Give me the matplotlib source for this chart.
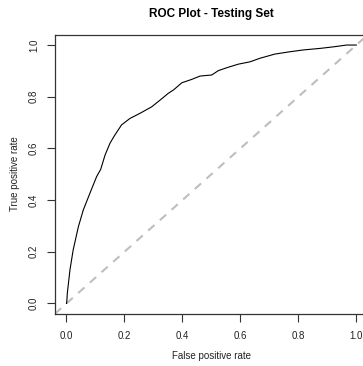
import matplotlib
matplotlib.use("Agg")
import matplotlib.pyplot as plt

fpr = [0.0, 0.001, 0.003, 0.012, 0.023, 0.041, 0.058, 0.081, 0.104, 0.118, 0.133,
       0.150, 0.167, 0.190, 0.219, 0.254, 0.294, 0.323, 0.351, 0.369, 0.398,
       0.432, 0.461, 0.501, 0.524, 0.558, 0.593, 0.633, 0.668, 0.719, 0.771,
       0.817, 0.875, 0.921, 0.967, 1.0]
tpr = [0.0, 0.007, 0.041, 0.130, 0.207, 0.297, 0.362, 0.427, 0.491, 0.519, 0.574,
       0.620, 0.652, 0.691, 0.716, 0.736, 0.761, 0.787, 0.813, 0.826, 0.854,
       0.867, 0.880, 0.884, 0.901, 0.914, 0.926, 0.935, 0.949, 0.965, 0.974,
       0.981, 0.987, 0.993, 1.0, 1.0]
ticks = [0.0, 0.2, 0.4, 0.6, 0.8, 1.0]
tick_labels = ["0.0", "0.2", "0.4", "0.6", "0.8", "1.0"]

plt.rcParams['font.family'] = ['Liberation Sans', 'DejaVu Sans']

W, H = 363, 366
fig = plt.figure(figsize=(W / 100, H / 100), dpi=100)
left, right, top, bottom = 54.9, 367.9, 34.7, 313.8
ax = fig.add_axes([left / W, (H - bottom) / H, (right - left) / W, (bottom - top) / H])

ax.plot([-0.04, 1.04], [-0.04, 1.04], color='#BEBEBE', lw=1.5, linestyle=(0, (4, 3.5)))
ax.plot(fpr, tpr, color='black', lw=0.8)

ax.set_xlim(-0.04, 1.04)
ax.set_ylim(-0.04, 1.04)
ax.set_xticks(ticks)
ax.set_xticklabels(tick_labels)
ax.set_yticks(ticks)
ax.set_yticklabels(tick_labels, rotation=90, va='center')
ax.tick_params(axis='both', length=5.5, width=0.8, color='#333333', labelsize=7,
               labelcolor='#222222')
ax.tick_params(axis='x', pad=7)
ax.tick_params(axis='y', pad=6)
for s in ax.spines.values():
    s.set_color('#333333')
    s.set_linewidth(0.9)

fig.text(211 / W, 1 - 14 / H, "ROC Plot - Testing Set", ha='center', va='center',
         fontsize=8.5, fontweight='bold')
fig.text(211 / W, 1 - 356 / H, "False positive rate", ha='center', va='center',
         fontsize=7, color='#222222')
fig.text(15 / W, 1 - 174 / H, "True positive rate", ha='center', va='center',
         fontsize=7, rotation=90, color='#222222')

fig.savefig("out.png", dpi=100)
